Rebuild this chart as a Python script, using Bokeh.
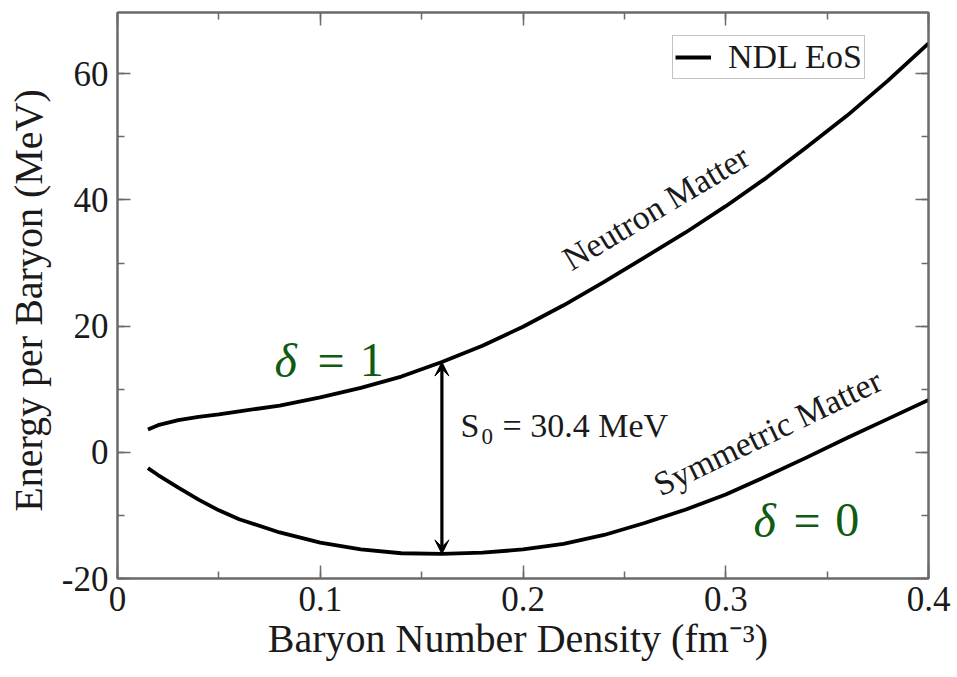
from bokeh.plotting import figure
from bokeh.models import (LinearAxis, Range1d, Arrow, VeeHead, Legend, LegendItem,
                          SingleIntervalTicker, Label, CustomJSTickFormatter)
from bokeh.embed import file_html
from bokeh.resources import INLINE

# ---- data ----
density = [0.015, 0.02, 0.03, 0.04, 0.05, 0.06, 0.08, 0.10, 0.12, 0.14, 0.16, 0.18,
           0.20, 0.22, 0.24, 0.26, 0.28, 0.30, 0.32, 0.34, 0.36, 0.38, 0.40]
neutron = [3.6, 4.3, 5.1, 5.6, 6.0, 6.5, 7.4, 8.7, 10.2, 12.0, 14.3, 16.9,
           19.9, 23.3, 27.0, 30.9, 34.8, 39.0, 43.5, 48.4, 53.4, 58.9, 64.8]
symmetric = [-2.5, -3.6, -5.6, -7.5, -9.2, -10.6, -12.7, -14.3, -15.4, -16.0, -16.1, -15.9,
             -15.4, -14.5, -13.1, -11.2, -9.1, -6.7, -3.8, -0.8, 2.3, 5.3, 8.3]
saturation_density = 0.16
x_ticks_interval = 0.1
y_ticks_interval = 20
legend_label = "NDL EoS"

FONT = "Liberation Serif"
TXT = "#1a1a1a"
GREEN = "#0f5b12"
FRAME = "#6a6a6a"

p = figure(width=957, height=677, x_range=Range1d(0, 0.4), y_range=Range1d(-20, 69.7),
           output_backend="svg", toolbar_location=None,
           min_border_left=117, min_border_right=29, min_border_top=12, min_border_bottom=99,
           background_fill_color="white", border_fill_color="white")
p.grid.visible = False
p.outline_line_color = FRAME
p.outline_line_width = 2

xt = SingleIntervalTicker(interval=x_ticks_interval, num_minor_ticks=2)
yt = SingleIntervalTicker(interval=y_ticks_interval, num_minor_ticks=2)

def style_axis(ax):
    ax.axis_line_color = FRAME
    ax.axis_line_width = 2
    ax.major_tick_line_color = FRAME
    ax.minor_tick_line_color = FRAME
    ax.major_tick_line_width = 1.5
    ax.minor_tick_line_width = 1.5
    ax.major_tick_in = 13
    ax.major_tick_out = 0
    ax.minor_tick_in = 7
    ax.minor_tick_out = 0

xa = p.xaxis[0]
ya = p.yaxis[0]
xa.ticker = xt
ya.ticker = yt
xa.formatter = CustomJSTickFormatter(code="return Math.abs(tick) < 1e-9 ? '0' : tick.toFixed(1);")
ya.formatter = CustomJSTickFormatter(code="return tick.toFixed(0);")
for ax in (xa, ya):
    style_axis(ax)
    ax.major_label_text_font = FONT
    ax.major_label_text_font_size = "35px"
    ax.major_label_text_color = TXT
    ax.axis_label_text_font = FONT
    ax.axis_label_text_font_size = "40px"
    ax.axis_label_text_font_style = "normal"
    ax.axis_label_text_color = TXT
xa.axis_label = "Baryon Number Density  (fm\u207b\u00b3)"
ya.axis_label = "Energy per Baryon  (MeV)"
xa.major_label_standoff = 8
xa.axis_label_standoff = 2
ya.major_label_standoff = 9
ya.axis_label_standoff = 8

for loc, tk in (("above", xt), ("right", yt)):
    ax = LinearAxis(ticker=tk, major_label_text_font_size="0px", major_label_standoff=0,
                    major_label_text_color=None)
    style_axis(ax)
    p.add_layout(ax, loc)

# ---- curves ----
r_neu = p.line(density, neutron, line_color="black", line_width=3.8, line_join="round")
r_sym = p.line(density, symmetric, line_color="black", line_width=3.8, line_join="round")

# ---- symmetry energy arrow ----
i0 = density.index(saturation_density)
p.add_layout(Arrow(x_start=density[i0], y_start=symmetric[i0],
                   x_end=density[i0], y_end=neutron[i0],
                   line_color="black", line_width=3.2,
                   start=VeeHead(size=14, fill_color="black", line_color="black", line_width=1),
                   end=VeeHead(size=14, fill_color="black", line_color="black", line_width=1)))

def lab(text, x, y, size, color=TXT, angle=0.0, style="normal"):
    p.add_layout(Label(x=x, y=y, text=text, text_font=FONT, text_font_size=size,
                       text_color=color, angle=angle, text_baseline="alphabetic",
                       text_align="left", text_font_style=style))

# S0 annotation
lab("S", 0.1692, 4.2, "34px")
lab("0", 0.1795, 2.5, "23px")
lab("= 30.4 MeV", 0.1899, 4.2, "34px")

# curve names
lab("Neutron Matter", 0.221, 30.2, "34px", angle=0.54)
lab("Symmetric Matter", 0.2655, -5.4, "34px", angle=0.45)

# delta labels
lab("\u03b4", 0.0774, 14.6, "48px", GREEN, style="italic")
lab("=", 0.0986, 14.6, "48px", GREEN)
lab("1", 0.1195, 14.6, "48px", GREEN)
lab("\u03b4", 0.3137, -10.8, "48px", GREEN, style="italic")
lab("=", 0.3334, -10.8, "48px", GREEN)
lab("0", 0.3540, -10.8, "48px", GREEN)

# ---- legend ----
legend = Legend(items=[LegendItem(label=legend_label, renderers=[r_neu])],
                location=(555, 499), padding=2, margin=0, spacing=0,
                glyph_width=36, glyph_height=20, label_standoff=17,
                label_text_font=FONT, label_text_font_size="34px", label_text_color=TXT,
                border_line_color="#888888", border_line_width=1.5,
                background_fill_color="white", background_fill_alpha=1.0)
p.add_layout(legend)

open("out.html", "w").write(file_html(p, INLINE))
